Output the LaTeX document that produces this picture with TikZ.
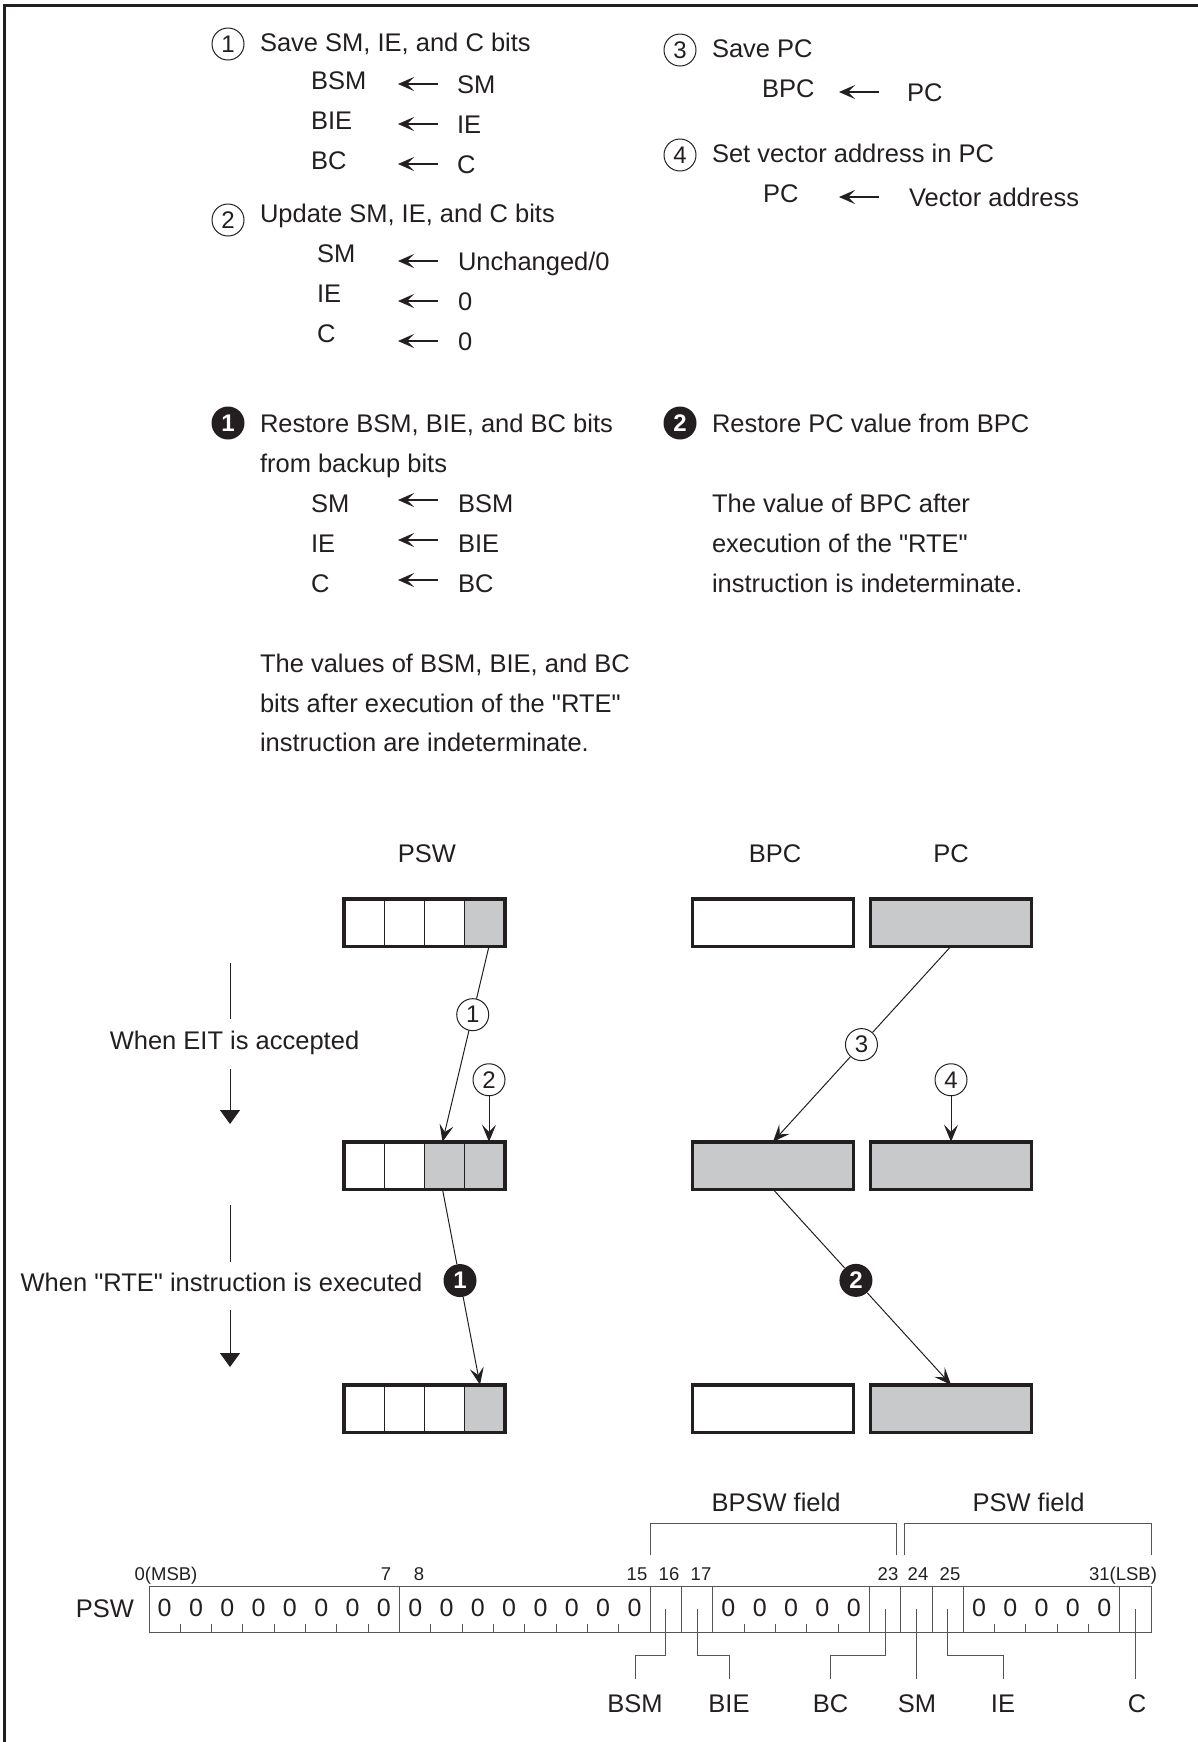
\documentclass[tikz,border=0pt]{standalone}
\usepackage{fontspec}
\setmainfont{Liberation Sans}
\newfontfamily\qfont{Liberation Sans}
\usetikzlibrary{arrows.meta,calc}
\definecolor{ink}{RGB}{35,31,32}
\definecolor{boxgray}{RGB}{200,201,203}
\definecolor{regline}{RGB}{85,85,85}
\newcommand{\fsMain}{\fontsize{12.75pt}{15pt}\selectfont}
\newcommand{\fsNum}{\fontsize{9.25pt}{11pt}\selectfont}
\newcommand{\fsZero}{\fontsize{12.5pt}{14pt}\selectfont}
\newcommand{\fsCirc}{\fontsize{12pt}{14pt}\selectfont}
\newcommand{\dq}{{\qfont"}}
\begin{document}
\begin{tikzpicture}[x=0.5pt,y=-0.5pt,
  txt/.style={anchor=west,inner sep=0pt,outer sep=0pt,font=\fsMain,text=ink,text height=9.13pt,text depth=0pt},
  ctxt/.style={txt,anchor=center},
  nums/.style={anchor=center,inner sep=0pt,font=\fsNum,text=ink,text height=6.62pt,text depth=0pt},
  zero/.style={anchor=center,inner sep=0pt,font=\fsZero,text=ink},
  numc/.style={circle,draw=ink,line width=0.5pt,fill=white,minimum size=16pt,inner sep=0pt,font=\fsCirc,text=ink},
  numf/.style={circle,fill=ink,minimum size=16.5pt,inner sep=0pt,font=\bfseries\fsCirc,text=white},
  tarrow/.style={draw=ink,line width=0.8pt,-{Stealth[length=8pt,width=7pt,inset=3.5pt]}},
  darrow/.style={draw=ink,line width=0.5pt,-{Stealth[length=8.5pt,width=7pt,inset=3.5pt]}},
  dline/.style={draw=ink,line width=0.5pt},
  tri/.style={draw=ink,line width=0.5pt,-{Triangle[length=7pt,width=10pt]}},
  leader/.style={draw=regline,line width=0.5pt},
  reg/.style={draw=ink,line width=1.75pt,minimum width=80.5pt,minimum height=23.75pt,inner sep=0pt,outer sep=0pt},
  regW/.style={reg,fill=white},
  regG/.style={reg,fill=boxgray},
  pswreg/.style={reg,fill=white,path picture={
    \fill[boxgray] ($(path picture bounding box.north west)!#1!(path picture bounding box.north east)$) rectangle (path picture bounding box.south east);
    \foreach \f in {0.25,0.5,0.75}
      \draw[ink,line width=0.5pt] ($(path picture bounding box.north west)!\f!(path picture bounding box.north east)$) -- ($(path picture bounding box.south west)!\f!(path picture bounding box.south east)$);
  }}
]
\useasboundingbox (0,0) rectangle (1198,1742);
% frame
\draw[ink,line width=1.5pt,line join=miter] (4,1742) -- (4,5.5) -- (1198,5.5);

% ---------- step 1 ----------
\node[numc] (c1t) at (228,44) {1};
\node[txt] (h1) at (260,42) {Save SM, IE, and C bits};
\node[txt] (l11) at (311,80) {BSM};
\node[txt] (r11) at (457,84) {SM};
\node[txt] (l12) at (311,120) {BIE};
\node[txt] (r12) at (457,124) {IE};
\node[txt] (l13) at (311,160) {BC};
\node[txt] (r13) at (457,164) {C};
\foreach \n in {r11,r12,r13}
  \draw[tarrow] ([xshift=-9.5pt]\n.west) -- ([xshift=-29.5pt]\n.west);

% ---------- step 2 ----------
\node[numc] (c2t) at (228,220) {2};
\node[txt] (h2) at (260,213) {Update SM, IE, and C bits};
\node[txt] (l21) at (317,253) {SM};
\node[txt] (r21) at (458,261) {Unchanged/0};
\node[txt] (l22) at (317,293) {IE};
\node[txt] (r22) at (458,301) {0};
\node[txt] (l23) at (317,333) {C};
\node[txt] (r23) at (458,341) {0};
\foreach \n in {r21,r22,r23}
  \draw[tarrow] ([xshift=-10pt]\n.west) -- ([xshift=-30pt]\n.west);

% ---------- step 3 / 4 ----------
\node[numc] (c3t) at (680,50) {3};
\node[txt] (h3) at (712,48) {Save PC};
\node[txt] (l31) at (762,88) {BPC};
\node[txt] (r31) at (907,92) {PC};
\draw[tarrow] ([xshift=-14pt]r31.west) -- ([xshift=-34pt]r31.west);
\node[numc] (c4t) at (680,155) {4};
\node[txt] (h4) at (712,153) {Set vector address in PC};
\node[txt] (l41) at (763,193) {PC};
\node[txt] (r41) at (909,197) {Vector address};
\draw[tarrow] ([xshift=-15pt]r41.west) -- ([xshift=-35pt]r41.west);

% ---------- restore ----------
\node[numf] (f1t) at (228,423) {1};
\node[txt] (h5) at (260,423) {Restore BSM, BIE, and BC bits};
\node[txt] (h5b) at (260,463) {from backup bits};
\node[txt] (l51) at (311,503) {SM};
\node[txt] (r51) at (458,503) {BSM};
\node[txt] (l52) at (311,543) {IE};
\node[txt] (r52) at (458,543) {BIE};
\node[txt] (l53) at (311,583) {C};
\node[txt] (r53) at (458,583) {BC};
\foreach \n in {r51,r52,r53}
  \draw[tarrow] ([xshift=-10pt,yshift=1.5pt]\n.west) -- ([xshift=-30pt,yshift=1.5pt]\n.west);
\node[txt] (n1) at (260,663) {The values of BSM, BIE, and BC};
\node[txt] (n2) at (260,703) {bits after execution of the \dq RTE\dq};
\node[txt] (n3) at (260,742) {instruction are indeterminate.};
\node[numf] (f2t) at (680,423) {2};
\node[txt] (h6) at (712,423) {Restore PC value from BPC};
\node[txt] (m1) at (712,503) {The value of BPC after};
\node[txt] (m2) at (712,543) {execution of the \dq RTE\dq};
\node[txt] (m3) at (712,583) {instruction is indeterminate.};

% ---------- register diagram ----------
\node[ctxt] (lpsw) at (427,853) {PSW};
\node[ctxt] (lbpc) at (775,853) {BPC};
\node[ctxt] (lpc) at (951,853) {PC};
\node[pswreg=0.75] (psw1) at (424.5,922.5) {};
\node[pswreg=0.5] (psw2) at (424.5,1165.5) {};
\node[pswreg=0.75] (psw3) at (424.5,1408.5) {};
\node[regW] (bpc1) at (773,922.5) {};
\node[regG] (pc1) at (951,922.5) {};
\node[regG] (bpc2) at (773,1165.5) {};
\node[regG] (pc2) at (951,1165.5) {};
\node[regW] (bpc3) at (773,1408.5) {};
\node[regG] (pc3) at (951,1408.5) {};

% arrow 1
\coordinate (a1s) at ([xshift=32.25pt]psw1.south);
\coordinate (a1e) at ([xshift=9pt]psw2.north);
\path (a1s) -- (a1e) node[numc,pos=0.35] (c1d) {1};
\draw[dline] (a1s) -- (c1d);
\draw[darrow] (c1d) -- (a1e);
% arrow 2
\coordinate (a2e) at ([xshift=32.25pt]psw2.north);
\node[numc] (c2d) at ([yshift=31pt]a2e) {2};
\draw[darrow] (c2d) -- (a2e);
% arrow filled 1
\coordinate (a3s) at ([xshift=9pt]psw2.south);
\coordinate (a3e) at ([xshift=27.75pt]psw3.north);
\path (a3s) -- (a3e) node[numf,pos=0.467] (f1d) {1};
\draw[dline] (a3s) -- (f1d);
\draw[darrow] (f1d) -- (a3e);
% arrow 3
\coordinate (b1s) at (pc1.south);
\coordinate (b1e) at (bpc2.north);
\path (b1s) -- (b1e) node[numc,pos=0.503] (c3d) {3};
\draw[dline] (b1s) -- (c3d);
\draw[darrow] (c3d) -- (b1e);
% arrow 4
\node[numc] (c4d) at ([yshift=31pt]pc2.north) {4};
\draw[darrow] (c4d) -- (pc2.north);
% arrow filled 2
\coordinate (b2s) at (bpc2.south);
\coordinate (b2e) at (pc3.north);
\path (b2s) -- (b2e) node[numf,pos=0.466] (f2d) {2};
\draw[dline] (b2s) -- (f2d);
\draw[darrow] (f2d) -- (b2e);

% timeline labels
\node[ctxt] (tEIT) at (234.5,1040) {When EIT is accepted};
\coordinate (e1) at (230,963); \coordinate (e2) at (230,1019);
\coordinate (e3) at (230,1069); \coordinate (e4) at (230,1124);
\draw[dline] (e1) -- (e2);
\draw[tri] (e3) -- (e4);
\node[ctxt] (tRTE) at (221.5,1282) {When \dq RTE\dq{} instruction is executed};
\coordinate (e5) at (230,1205); \coordinate (e6) at (230,1262);
\coordinate (e7) at (230,1310); \coordinate (e8) at (230,1367);
\draw[dline] (e5) -- (e6);
\draw[tri] (e7) -- (e8);

% ---------- PSW bit map ----------
\node[ctxt] (lbig) at (105,1608) {PSW};
\node[draw=regline,line width=0.5pt,minimum width=501.15pt,minimum height=23pt,inner sep=0pt,outer sep=0pt] (reg) at (650.15,1609) {};
\foreach \i in {8,16,17,18,23,24,25,26,31}
  \draw[regline,line width=0.5pt] (149+31.32*\i,1586) -- (149+31.32*\i,1632);
\foreach \i in {1,2,3,4,5,6,7,9,10,11,12,13,14,15,19,20,21,22,27,28,29,30}
  \draw[regline,line width=0.5pt] (149+31.32*\i,1624) -- (149+31.32*\i,1632);
\foreach \i in {0,1,2,3,4,5,6,7,8,9,10,11,12,13,14,15,18,19,20,21,22,26,27,28,29,30}
  \node[zero] (z\i) at (149+31.32*\i+15.66,1608) {0};
% bit numbers
\node[nums] (n0) at (166,1574) {0(MSB)};
\node[nums] (n7) at (386,1574) {7};
\node[nums] (n8) at (419,1574) {8};
\node[nums] (n15) at (637,1574) {15};
\node[nums] (n16) at (669,1574) {16};
\node[nums] (n17) at (701,1574) {17};
\node[nums] (n23) at (888,1574) {23};
\node[nums] (n24) at (918,1574) {24};
\node[nums] (n25) at (950,1574) {25};
\node[nums] (n31) at (1123,1574) {31(LSB)};
% field brackets
\draw[leader] (650.3,1555) |- (896.7,1523) -- (896.7,1555);
\draw[leader] (904.3,1555) |- (1151.3,1523) -- (1151.3,1555);
\node[ctxt] (fbpsw) at (776,1502) {BPSW field};
\node[ctxt] (fpsw) at (1028.5,1502) {PSW field};
% bit labels
\node[ctxt] (lBSM) at (635,1703) {BSM};
\node[ctxt] (lBIE) at (729,1703) {BIE};
\node[ctxt] (lBC) at (830.5,1703) {BC};
\node[ctxt] (lSM) at (917,1703) {SM};
\node[ctxt] (lIE) at (1003,1703) {IE};
\node[ctxt] (lC) at (1137,1703) {C};
\coordinate (b16) at (665.8,1609);
\coordinate (b17) at (697.1,1609);
\coordinate (b23) at (885.0,1609);
\coordinate (b24) at (916.3,1609);
\coordinate (b25) at (947.6,1609);
\coordinate (b31) at (1135.6,1609);
\foreach \l in {BSM,BIE,BC,SM,IE,C}
  \coordinate (q\l) at ([yshift=7.5pt]l\l.north);
\draw[leader] (b16) |- ([yshift=11.5pt]qBSM) -- (qBSM);
\draw[leader] (b17) |- ([yshift=11.5pt]qBIE) -- (qBIE);
\draw[leader] (b23) |- ([yshift=11.5pt]qBC) -- (qBC);
\draw[leader] (b24) -- (b24 |- qSM);
\draw[leader] (b25) |- ([yshift=11.5pt]qIE) -- (qIE);
\draw[leader] (b31) -- (b31 |- qC);
\end{tikzpicture}
\end{document}
